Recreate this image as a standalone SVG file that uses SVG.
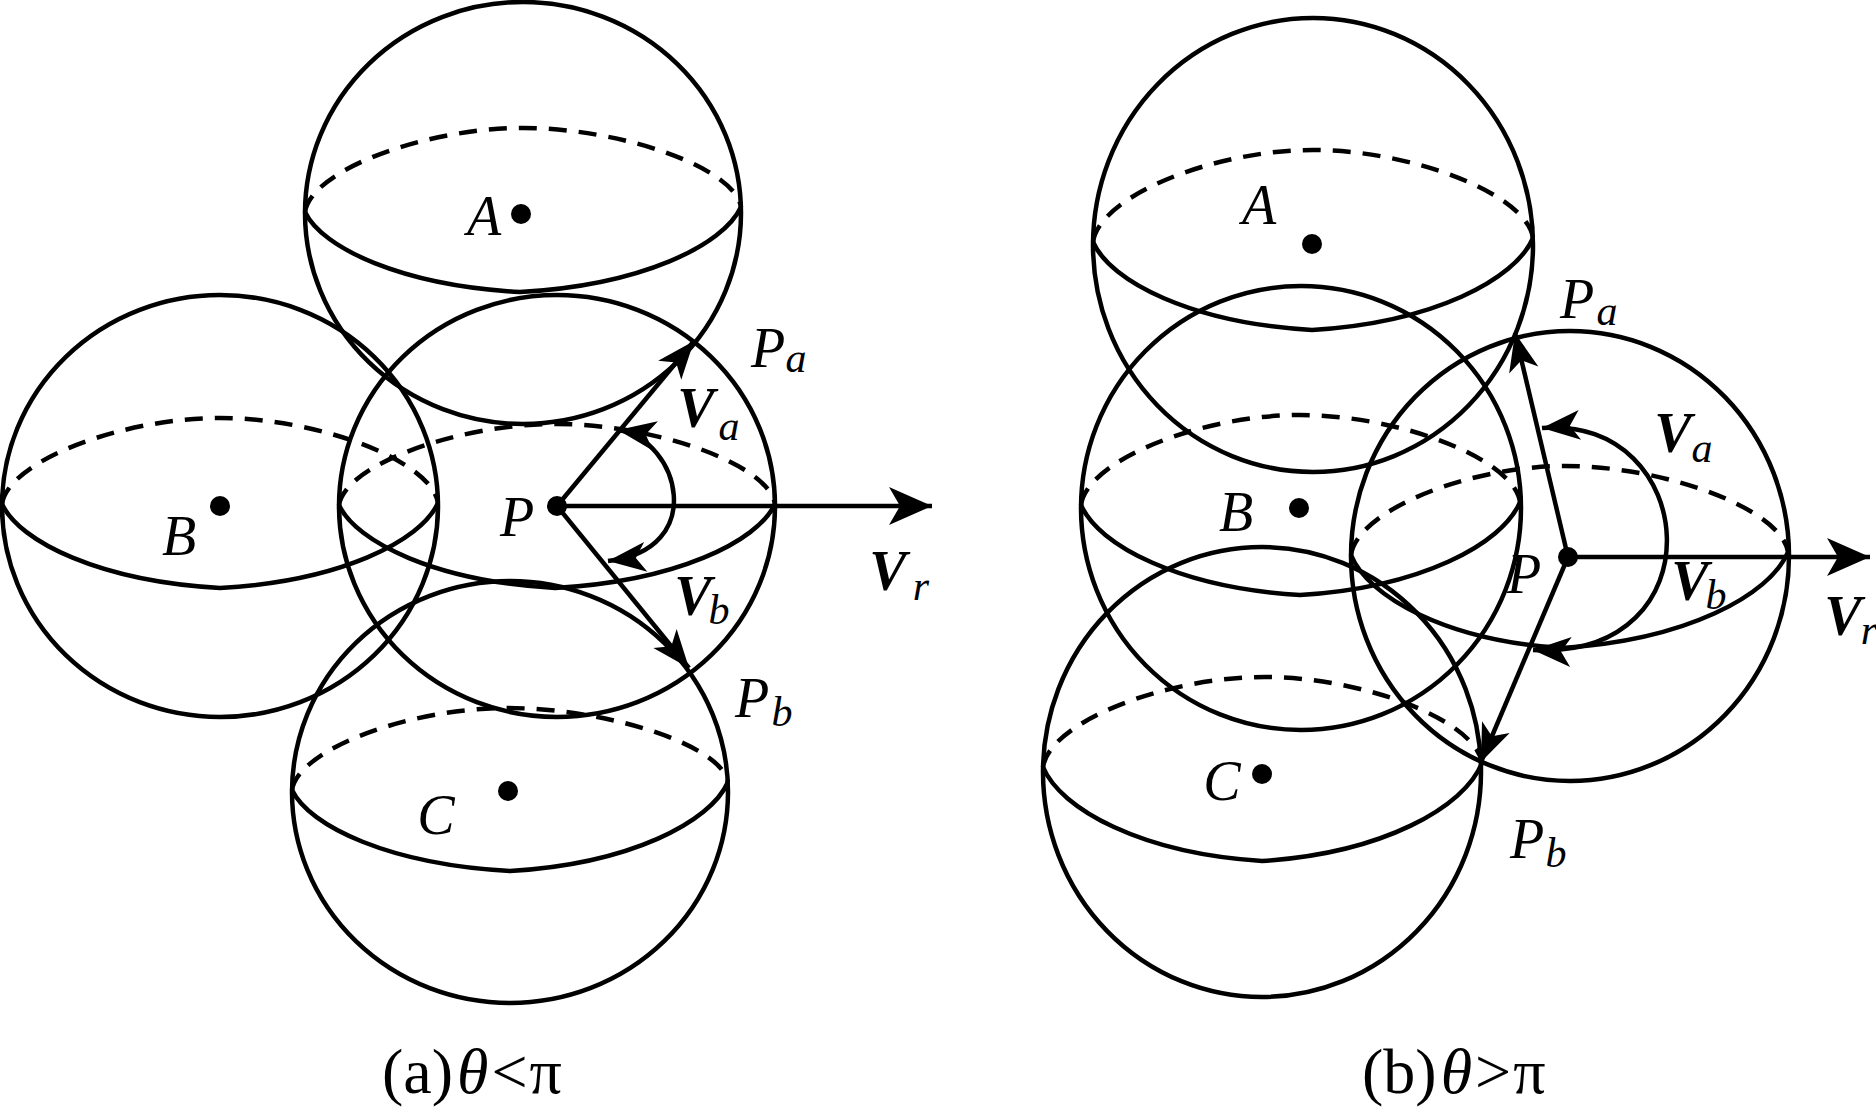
<svg xmlns="http://www.w3.org/2000/svg" width="1876" height="1112" viewBox="0 0 1876 1112">
<style>
  .sph { fill: none; stroke: #000; stroke-width: 4.5; }
  .eqd { fill: none; stroke: #000; stroke-width: 4.5; stroke-dasharray: 18 12; }
  .eqs { fill: none; stroke: #000; stroke-width: 4.5; }
  .dot { fill: #000; }
  .vec { fill: none; stroke: #000; stroke-width: 4.5; }
  .lbl { font-family: "Liberation Serif", "Times New Roman", serif; font-style: italic; font-size: 56px; fill: #000; }
  .sub { font-size: 42px; font-weight: normal; }
  .bold { font-weight: bold; }
  .cap { font-family: "Liberation Serif", "Times New Roman", serif; font-size: 64px; fill: #000; }
</style>
<defs>
  <marker id="ah" viewBox="-40 -17 42 34" refX="0" refY="0" markerWidth="42" markerHeight="34" markerUnits="userSpaceOnUse" orient="auto-start-reverse">
    <path d="M0,0 L-38,-15 L-28,0 L-38,15 Z" fill="#000"/>
  </marker>
  <marker id="ahL" viewBox="-46 -21 48 42" refX="0" refY="0" markerWidth="48" markerHeight="42" markerUnits="userSpaceOnUse" orient="auto">
    <path d="M0,0 L-43,-19 L-32,0 L-43,19 Z" fill="#000"/>
  </marker>
</defs>
<rect width="1876" height="1112" fill="#fff"/>

<!-- Panel (a) -->
<g id="a-sphere-A">
  <ellipse class="sph" cx="523" cy="213" rx="218" ry="211"/>
  <path class="eqd" d="M305,212 C311.5,170 425,128 523,128 C621,128 734.5,167.5 741,207"/>
  <path class="eqs" d="M305,212 C322,248 402,285.6 520,292 C641.5,285.2 723.3,245.3 741,207"/>
  <circle class="dot" cx="521" cy="214" r="10"/>
  <text class="lbl" x="484" y="235" text-anchor="middle">A</text>
</g>
<g id="a-sphere-B">
  <ellipse class="sph" cx="220" cy="506" rx="218" ry="211"/>
  <path class="eqd" d="M2,504 C8.5,461 121.9,418 220,418 C318.1,418 431.5,460.5 438,503"/>
  <path class="eqs" d="M2,504 C19.4,541.8 100.1,581.3 220,588 C339.9,581.2 420.6,541.3 438,503"/>
  <circle class="dot" cx="220" cy="506" r="10"/>
  <text class="lbl" x="179" y="555" text-anchor="middle">B</text>
</g>
<g id="a-sphere-P">
  <ellipse class="sph" cx="557" cy="506" rx="218" ry="211"/>
  <path class="eqd" d="M339,505 C345.5,464.5 458.4,424 556,424 C654.6,424 768.4,464 775,504"/>
  <path class="eqs" d="M339,505 C356.3,542.4 436.2,581.4 555,588 C676,581.3 757.4,541.8 775,504"/>
  <circle class="dot" cx="557" cy="506" r="10"/>
  <text class="lbl" x="517" y="536" text-anchor="middle">P</text>
</g>
<g id="a-sphere-C">
  <ellipse class="sph" cx="510" cy="792" rx="218" ry="211"/>
  <path class="eqd" d="M292,790 C298.5,749 410.3,708 507,708 C606.5,708 721.4,745 728,782"/>
  <path class="eqs" d="M292,790 C309.4,826.5 390.1,864.5 510,871 C629.9,863.9 710.6,822 728,782"/>
  <circle class="dot" cx="508" cy="791" r="10"/>
  <text class="lbl" x="436" y="834" text-anchor="middle">C</text>
</g>

<!-- Panel (b) -->
<g id="b-sphere-A">
  <ellipse class="sph" cx="1313" cy="245" rx="220" ry="227"/>
  <path class="eqd" d="M1093,242 C1099.6,196 1214,150 1313,150 C1412,150 1526.4,194 1533,238"/>
  <path class="eqs" d="M1093,242 C1110.5,281.6 1191.6,323 1312,330 C1433.6,322.6 1515.3,279.4 1533,238"/>
  <circle class="dot" cx="1312" cy="244" r="10"/>
  <text class="lbl" x="1259" y="224" text-anchor="middle">A</text>
</g>
<g id="b-sphere-B">
  <ellipse class="sph" cx="1301" cy="508" rx="220" ry="222"/>
  <path class="eqd" d="M1081,505 C1087.6,460 1201.5,415 1300,415 C1399,415 1513.4,458.5 1520,502"/>
  <path class="eqs" d="M1081,505 C1098.5,545.5 1179.6,587.8 1300,595 C1421,587.6 1502.4,543.9 1520,502"/>
  <circle class="dot" cx="1299" cy="508" r="10"/>
  <text class="lbl" x="1236" y="531" text-anchor="middle">B</text>
</g>
<g id="b-sphere-P">
  <ellipse class="sph" cx="1570" cy="556" rx="219" ry="225"/>
  <path class="eqd" d="M1351,555 C1357.4,510.5 1468.7,466 1565,466 C1665.4,466 1781.3,509 1788,552"/>
  <path class="eqs" d="M1351,555 C1367.9,596.9 1446,640.6 1562,648 C1686.3,640.3 1769.9,595.2 1788,552"/>
  <circle class="dot" cx="1568" cy="557" r="10"/>
  <text class="lbl" x="1524" y="593" text-anchor="middle">P</text>
</g>
<g id="b-sphere-C">
  <ellipse class="sph" cx="1262" cy="772" rx="219" ry="225"/>
  <path class="eqd" d="M1043,767 C1049.7,722 1165.1,677 1265,677 C1362.7,677 1475.5,720 1482,763"/>
  <path class="eqs" d="M1043,767 C1060.5,809.3 1141.6,853.5 1262,861 C1383,853.2 1464.4,807.1 1482,763"/>
  <circle class="dot" cx="1262" cy="774" r="10"/>
  <text class="lbl" x="1222" y="800" text-anchor="middle">C</text>
</g>

<!-- Connectors (vectors) -->
<g id="connectors">
  <line class="vec" x1="557" y1="506" x2="694" y2="341" marker-end="url(#ah)"/>
  <line class="vec" x1="557" y1="506" x2="689" y2="668" marker-end="url(#ah)"/>
  <line class="vec" x1="557" y1="506" x2="932" y2="506" marker-end="url(#ahL)"/>
  <path class="vec" d="M618,430 C680,440 708,550 608,561" marker-start="url(#ah)" marker-end="url(#ah)"/>

  <line class="vec" x1="1568" y1="557" x2="1515" y2="333" marker-end="url(#ah)"/>
  <line class="vec" x1="1568" y1="557" x2="1481" y2="762" marker-end="url(#ah)"/>
  <line class="vec" x1="1568" y1="557" x2="1870" y2="557" marker-end="url(#ahL)"/>
  <path class="vec" d="M1542,428 C1700,415 1720,660 1533,650" marker-start="url(#ah)" marker-end="url(#ah)"/>
</g>

<!-- Vector / point labels -->
<g id="labels">
  <text class="lbl"><tspan x="768" y="367" text-anchor="middle">P</tspan><tspan class="sub" x="796" y="372" text-anchor="middle">a</tspan></text>
  <text class="lbl"><tspan class="bold" x="696" y="427" text-anchor="middle">V</tspan><tspan class="sub" x="729" y="440" text-anchor="middle">a</tspan></text>
  <text class="lbl"><tspan class="bold" x="693" y="615" text-anchor="middle">V</tspan><tspan class="sub" x="719" y="624" text-anchor="middle">b</tspan></text>
  <text class="lbl"><tspan class="bold" x="888" y="590" text-anchor="middle">V</tspan><tspan class="sub" x="921" y="600" text-anchor="middle">r</tspan></text>
  <text class="lbl"><tspan x="752" y="717" text-anchor="middle">P</tspan><tspan class="sub" x="782" y="726" text-anchor="middle">b</tspan></text>

  <text class="lbl"><tspan x="1577" y="318" text-anchor="middle">P</tspan><tspan class="sub" x="1607" y="325" text-anchor="middle">a</tspan></text>
  <text class="lbl"><tspan class="bold" x="1673" y="452" text-anchor="middle">V</tspan><tspan class="sub" x="1702" y="462" text-anchor="middle">a</tspan></text>
  <text class="lbl"><tspan class="bold" x="1690" y="600" text-anchor="middle">V</tspan><tspan class="sub" x="1716" y="609" text-anchor="middle">b</tspan></text>
  <text class="lbl"><tspan class="bold" x="1843" y="635" text-anchor="middle">V</tspan><tspan class="sub" x="1869" y="644" text-anchor="middle">r</tspan></text>
  <text class="lbl"><tspan x="1527" y="858" text-anchor="middle">P</tspan><tspan class="sub" x="1556" y="867" text-anchor="middle">b</tspan></text>
</g>

<g id="captions">
  <text class="cap" x="382" y="1093">(a)<tspan font-style="italic" dx="4">θ</tspan><tspan dx="3">&lt;</tspan><tspan dx="2">π</tspan></text>
  <text class="cap" x="1362" y="1093">(b)<tspan font-style="italic" dx="4">θ</tspan><tspan dx="3">&gt;</tspan><tspan dx="2">π</tspan></text>
</g>
</svg>
